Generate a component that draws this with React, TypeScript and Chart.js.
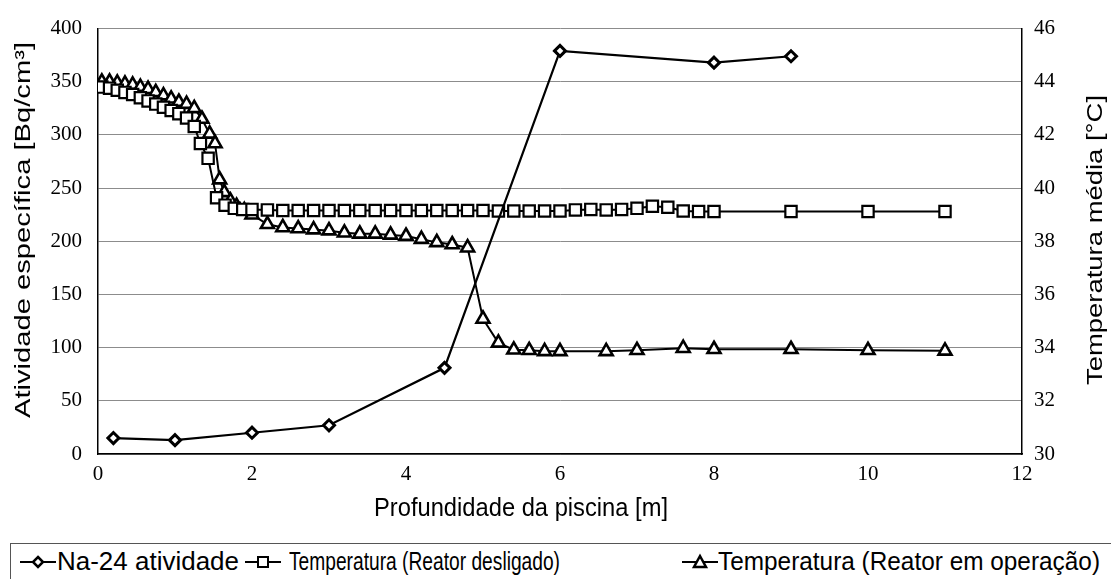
import React, { useEffect, useRef, useMemo } from 'react';
import { Chart, registerables } from 'chart.js';

Chart.register(...registerables);

// ---------- Data ----------
const naDepth = [0.2, 1, 2, 3, 4.5, 6, 8, 9];
const naActivity = [15, 13, 20, 27, 81, 379, 368, 374];

const offDepth = [
  0.05, 0.15, 0.25, 0.35, 0.45, 0.55, 0.65, 0.75, 0.85, 0.95, 1.05, 1.15, 1.25, 1.33, 1.43, 1.54, 1.65, 1.77, 1.88, 2.0,
  2.2, 2.4, 2.6, 2.8, 3.0, 3.2, 3.4, 3.6, 3.8, 4.0, 4.2, 4.4, 4.6, 4.8, 5.0, 5.2, 5.4, 5.6, 5.8, 6.0,
  6.2, 6.4, 6.6, 6.8, 7.0, 7.2, 7.4, 7.6, 7.8, 8.0, 9.0, 10.0, 11.0,
];
const offTemp = [
  43.8, 43.76, 43.68, 43.6, 43.52, 43.4, 43.28, 43.16, 43.04, 42.92, 42.8, 42.64, 42.32, 41.68, 41.12, 39.64, 39.36, 39.24, 39.2, 39.2,
  39.18, 39.16, 39.16, 39.16, 39.16, 39.16, 39.16, 39.16, 39.16, 39.16, 39.16, 39.16, 39.16, 39.16, 39.16, 39.14, 39.14, 39.14, 39.14, 39.14,
  39.18, 39.2, 39.18, 39.2, 39.24, 39.32, 39.28, 39.14, 39.12, 39.12, 39.12, 39.12, 39.12,
];

const opDepth = [
  0.05, 0.15, 0.25, 0.35, 0.45, 0.55, 0.65, 0.75, 0.85, 0.95, 1.05, 1.15, 1.25, 1.35, 1.45, 1.52, 1.58, 1.64, 1.72, 1.8, 1.9, 2.0,
  2.2, 2.4, 2.6, 2.8, 3.0, 3.2, 3.4, 3.6, 3.8, 4.0, 4.2, 4.4, 4.6, 4.8,
  5.0, 5.2, 5.4, 5.6, 5.8, 6.0, 6.6, 7.0, 7.6, 8.0, 9.0, 10.0, 11.0,
];
const opTemp = [
  44.0, 44.0, 43.96, 43.92, 43.88, 43.8, 43.72, 43.6, 43.48, 43.36, 43.24, 43.16, 43.0, 42.6, 42.04, 41.68, 40.32, 39.84, 39.52, 39.32, 39.16, 39.0,
  38.64, 38.52, 38.48, 38.44, 38.4, 38.32, 38.28, 38.28, 38.24, 38.2, 38.08, 37.96, 37.88, 37.76,
  35.08, 34.18, 33.92, 33.9, 33.86, 33.86, 33.86, 33.9, 33.98, 33.94, 33.94, 33.9, 33.88,
];

const xTicks = [0, 2, 4, 6, 8, 10, 12];
const leftTicks = [0, 50, 100, 150, 200, 250, 300, 350, 400];
const rightTicks = [30, 32, 34, 36, 38, 40, 42, 44, 46];

const seriesLabels = ['Na-24 atividade', 'Temperatura (Reator desligado)', 'Temperatura (Reator em operação)'];
const xTitle = 'Profundidade da piscina [m]';
const leftTitle = 'Atividade específica [Bq/cm³]';
const rightTitle = 'Temperatura média [°C]';

// ---------- Styling ----------
const SANS = '"Liberation Sans", Arial, sans-serif';
const SERIF = '"Liberation Serif", "Times New Roman", serif';
const TITLE_PX = 22;
const LEGEND_PX = 22;

function measure(text: string, font: string): number {
  const ctx = document.createElement('canvas').getContext('2d');
  if (!ctx) return text.length * 10;
  ctx.font = font;
  return ctx.measureText(text).width;
}

function AxisTitle(props: { text: string; cx: number; cy: number; length: number; rotate: number; cross: number }) {
  const { text, cx, cy, length, rotate, cross } = props;
  const w = useMemo(() => measure(text, `${TITLE_PX}px ${SANS}`), [text]);
  const sx = length / w;
  return (
    <div
      style={{
        position: 'absolute',
        left: cx,
        top: cy,
        transform: `translate(-50%, -50%) rotate(${rotate}deg) scale(${sx}, ${cross})`,
        whiteSpace: 'nowrap',
        font: `${TITLE_PX}px ${SANS}`,
        lineHeight: 1,
        color: '#000',
      }}
    >
      {text}
    </div>
  );
}

function LegendMarker(props: { x: number; cy: number; kind: 'diamond' | 'square' | 'triangle' }) {
  const { x, cy, kind } = props;
  const w = 36;
  const h = 20;
  const mx = w / 2;
  const my = h / 2;
  let shape: React.ReactNode = null;
  if (kind === 'diamond') {
    shape = <polygon points={`${mx},${my - 5} ${mx + 5},${my} ${mx},${my + 5} ${mx - 5},${my}`} fill="#fff" stroke="#000" strokeWidth={2.5} />;
  } else if (kind === 'square') {
    shape = <rect x={mx - 5} y={my - 5} width={10} height={10} fill="#fff" stroke="#000" strokeWidth={2} />;
  } else {
    shape = <polygon points={`${mx},${my - 6} ${mx + 6},${my + 5} ${mx - 6},${my + 5}`} fill="#fff" stroke="#000" strokeWidth={2.5} />;
  }
  return (
    <svg width={w} height={h} style={{ position: 'absolute', left: x, top: cy - h / 2 }}>
      <line x1={0} y1={my} x2={w} y2={my} stroke="#000" strokeWidth={2} />
      {shape}
    </svg>
  );
}

function LegendText(props: { text: string; x: number; cy: number; length: number }) {
  const { text, x, cy, length } = props;
  const w = useMemo(() => measure(text, `${LEGEND_PX}px ${SANS}`), [text]);
  const sx = length / w;
  return (
    <div
      style={{
        position: 'absolute',
        left: x,
        top: cy - LEGEND_PX / 2,
        transformOrigin: 'left center',
        transform: `scale(${sx}, 1.2)`,
        whiteSpace: 'nowrap',
        font: `${LEGEND_PX}px ${SANS}`,
        lineHeight: 1,
        color: '#000',
      }}
    >
      {text}
    </div>
  );
}

export default function App() {
  const canvasRef = useRef<HTMLCanvasElement | null>(null);

  useEffect(() => {
    if (!canvasRef.current) return;
    const tickFont = { family: SERIF, size: 21 };
    const chart = new Chart(canvasRef.current, {
      type: 'line',
      data: {
        datasets: [
          {
            label: seriesLabels[0],
            data: naDepth.map((x, i) => ({ x, y: naActivity[i] })),
            yAxisID: 'y',
            borderColor: '#000',
            borderWidth: 2.2,
            pointStyle: 'rectRot',
            pointRadius: 5.5,
            pointBackgroundColor: '#fff',
            pointBorderColor: '#000',
            pointBorderWidth: 3,
            tension: 0,
          },
          {
            label: seriesLabels[1],
            data: offDepth.map((x, i) => ({ x, y: offTemp[i] })),
            yAxisID: 'y2',
            borderColor: '#000',
            borderWidth: 2,
            pointStyle: 'rect',
            pointRadius: 8,
            pointBackgroundColor: '#fff',
            pointBorderColor: '#000',
            pointBorderWidth: 2.2,
            tension: 0,
          },
          {
            label: seriesLabels[2],
            data: opDepth.map((x, i) => ({ x, y: opTemp[i] })),
            yAxisID: 'y2',
            borderColor: '#000',
            borderWidth: 2,
            pointStyle: 'triangle',
            pointRadius: 7.5,
            pointBackgroundColor: '#fff',
            pointBorderColor: '#000',
            pointBorderWidth: 2.6,
            tension: 0,
          },
        ],
      },
      options: {
        responsive: false,
        animation: false,
        layout: { padding: { top: 19, left: 0, right: 0, bottom: 0 } },
        plugins: { legend: { display: false }, tooltip: { enabled: false } },
        scales: {
          x: {
            type: 'linear',
            position: 'bottom',
            min: xTicks[0],
            max: xTicks[xTicks.length - 1],
            grid: { display: false, drawTicks: false },
            border: { display: true, color: '#000', width: 1.5 },
            ticks: { color: '#000', font: tickFont, padding: 8, maxRotation: 0 },
            afterBuildTicks: (s: any) => {
              s.ticks = xTicks.map((v) => ({ value: v }));
            },
            afterFit: (s: any) => {
              s.height = 86;
            },
          },
          y: {
            type: 'linear',
            position: 'left',
            min: leftTicks[0],
            max: leftTicks[leftTicks.length - 1],
            grid: { color: '#8c8c8c', lineWidth: 1, drawTicks: false },
            border: { display: true, color: '#000', width: 1.5 },
            ticks: { color: '#000', font: tickFont, padding: 16 },
            afterBuildTicks: (s: any) => {
              s.ticks = leftTicks.map((v) => ({ value: v }));
            },
            afterFit: (s: any) => {
              s.width = 98;
            },
          },
          y2: {
            type: 'linear',
            position: 'right',
            min: rightTicks[0],
            max: rightTicks[rightTicks.length - 1],
            grid: { drawOnChartArea: false, drawTicks: false },
            border: { display: true, color: '#000', width: 1.5 },
            ticks: { color: '#000', font: tickFont, padding: 12 },
            afterBuildTicks: (s: any) => {
              s.ticks = rightTicks.map((v) => ({ value: v }));
            },
            afterFit: (s: any) => {
              s.width = 89;
            },
          },
        },
      },
    });
    return () => {
      chart.destroy();
    };
  }, []);

  const legendY = 562;

  return (
    <div style={{ position: 'absolute', left: 0, top: 0, width: 1111, height: 579, background: '#fff', overflow: 'hidden' }}>
      <canvas ref={canvasRef} width={1111} height={540} style={{ position: 'absolute', left: 0, top: 0, width: 1111, height: 540 }} />
      <AxisTitle text={xTitle} cx={521} cy={508} length={294} rotate={0} cross={1.2} />
      <AxisTitle text={leftTitle} cx={23} cy={230} length={376} rotate={-90} cross={1} />
      <AxisTitle text={rightTitle} cx={1095} cy={240} length={290} rotate={-90} cross={1} />
      <div
        style={{
          position: 'absolute',
          left: 10,
          top: 543,
          width: 1101,
          height: 36,
          borderTop: '1px solid #555',
          borderLeft: '1px solid #555',
          boxSizing: 'border-box',
        }}
      />
      <LegendMarker x={20} cy={legendY} kind="diamond" />
      <LegendText text={seriesLabels[0]} x={57} cy={legendY} length={182} />
      <LegendMarker x={245} cy={legendY} kind="square" />
      <LegendText text={seriesLabels[1]} x={289} cy={legendY} length={271} />
      <LegendMarker x={682} cy={legendY} kind="triangle" />
      <LegendText text={seriesLabels[2]} x={718} cy={legendY} length={382} />
    </div>
  );
}
